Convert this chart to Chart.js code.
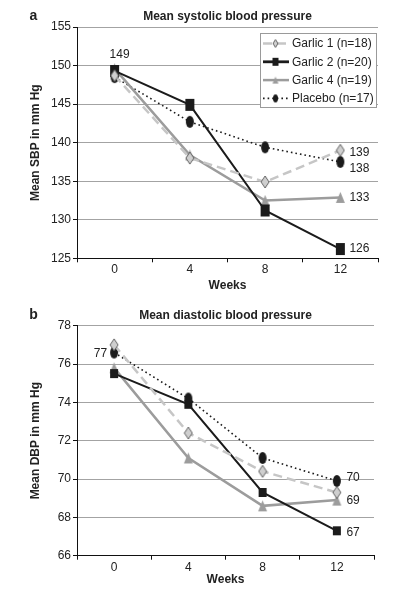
<!DOCTYPE html>
<html><head><meta charset="utf-8">
<script src="https://cdn.jsdelivr.net/npm/chart.js@4.4.1/dist/chart.umd.min.js"></script>
<style>
html,body{margin:0;padding:0;background:#fff;}
#wrap{position:relative;width:404px;height:595px;overflow:hidden;background:#fff;}
.box{position:absolute;left:0;width:404px;}
</style></head><body>
<div id="wrap">
<div class="box" style="top:0;height:295px"><canvas id="ca" width="404" height="295"></canvas></div>
<div class="box" style="top:295px;height:300px"><canvas id="cb" width="404" height="300"></canvas></div>
</div>
<script>
// ---- data ----
const weeks = ['0', '4', '8', '12'];
const seriesNames = ['Garlic 1 (n=18)', 'Garlic 2 (n=20)', 'Garlic 4 (n=19)', 'Placebo (n=17)'];
const sbpGarlic1 = [148.7, 138.0, 134.9, 139.0];
const sbpGarlic2 = [149.3, 144.9, 131.2, 126.2];
const sbpGarlic4 = [149.6, 138.4, 132.5, 132.9];
const sbpPlacebo = [148.5, 142.7, 139.4, 137.5];
const dbpGarlic1 = [77.0, 72.4, 70.4, 69.3];
const dbpGarlic2 = [75.5, 73.9, 69.3, 67.3];
const dbpGarlic4 = [75.8, 71.1, 68.6, 68.9];
const dbpPlacebo = [76.6, 74.2, 71.1, 69.9];
const sbpTicks = [125, 130, 135, 140, 145, 150, 155];
const dbpTicks = [66, 68, 70, 72, 74, 76, 78];
const sbpValueLabels = [
  {text: '149', series: 1, week: 0},
  {text: '139', series: 0, week: 3},
  {text: '138', series: 3, week: 3},
  {text: '133', series: 2, week: 3},
  {text: '126', series: 1, week: 3}
];
const dbpValueLabels = [
  {text: '77', series: 3, week: 0},
  {text: '70', series: 3, week: 3},
  {text: '69', series: 2, week: 3},
  {text: '67', series: 1, week: 3}
];

// ---- styles ----
const FONT = "'Liberation Sans', Arial, Helvetica, sans-serif";
const TXT = '#222';
const sbpLabelOffsets = [[5, -16, 'center'], [9, 2, 'left'], [9, 7, 'left'], [9, 0, 'left'], [9, 0, 'left']];
const dbpLabelOffsets = [[-7, 1.5, 'right'], [9.5, -3, 'left'], [9.5, 0.5, 'left'], [9.5, 2, 'left']];

function marker(shape, w, h, fill, stroke) {
  const c = document.createElement('canvas');
  c.width = w + 2; c.height = h + 2;
  const g = c.getContext('2d');
  g.translate(1, 1);
  g.beginPath();
  if (shape === 'ellipse') g.ellipse(w / 2, h / 2, w / 2, h / 2, 0, 0, Math.PI * 2);
  else if (shape === 'diamond') { g.moveTo(w / 2, 0); g.lineTo(w, h / 2); g.lineTo(w / 2, h); g.lineTo(0, h / 2); g.closePath(); }
  else if (shape === 'triangle') { g.moveTo(w / 2, 0); g.lineTo(w, h); g.lineTo(0, h); g.closePath(); }
  else g.rect(0, 0, w, h);
  g.fillStyle = fill; g.fill();
  if (stroke) { g.lineWidth = 0.9; g.strokeStyle = stroke; g.stroke(); }
  return c;
}

const lineStyles = [
  {color: '#c6c6c6', width: 2.5, dash: [9, 5]},
  {color: '#1b1b1b', width: 2, dash: []},
  {color: '#9c9c9c', width: 2.5, dash: []},
  {color: '#1b1b1b', width: 1.6, dash: [1.6, 3]}
];
const markersA = [
  marker('diamond', 8, 12, '#cfcfcf', '#555'),
  marker('rect', 9, 12, '#1b1b1b'),
  marker('triangle', 9, 11, '#9c9c9c'),
  marker('ellipse', 8, 12, '#1b1b1b')
];
const markersB = [
  marker('diamond', 8, 12, '#cfcfcf', '#555'),
  marker('rect', 8, 9, '#1b1b1b'),
  marker('triangle', 9, 11, '#9c9c9c'),
  marker('ellipse', 8, 12, '#1b1b1b')
];
const legendMarkers = [
  marker('diamond', 5, 8, '#cfcfcf', '#555'),
  marker('rect', 6, 8, '#1b1b1b'),
  marker('triangle', 6, 7, '#9c9c9c'),
  marker('ellipse', 5, 8, '#1b1b1b')
];

function datasets(values, markers) {
  return values.map((v, i) => ({
    label: seriesNames[i],
    data: v,
    borderColor: lineStyles[i].color,
    backgroundColor: lineStyles[i].color,
    borderWidth: lineStyles[i].width,
    borderDash: lineStyles[i].dash,
    borderCapStyle: 'butt',
    tension: 0,
    fill: false,
    pointStyle: markers[i],
    pointRadius: 5,
    pointHoverRadius: 5,
    clip: false
  }));
}

const decor = {
  id: 'decor',
  afterDraw(chart) {
    const o = chart.options.plugins.decor;
    const ctx = chart.ctx, a = chart.chartArea;
    ctx.save();
    ctx.fillStyle = TXT;
    ctx.textBaseline = 'middle';
    // title
    ctx.font = 'bold 12px ' + FONT;
    ctx.textAlign = 'center';
    ctx.fillText(o.title, (a.left + a.right) / 2, a.top - 10.3);
    // panel letter
    ctx.font = 'bold 14px ' + FONT;
    ctx.fillText(o.letter, 33.5, a.top - 10.5);
    // value labels
    ctx.font = '12px ' + FONT;
    o.labels.forEach((l, k) => {
      const p = chart.getDatasetMeta(l.series).data[l.week];
      const off = o.offsets[k];
      ctx.textAlign = off[2];
      ctx.fillText(l.text, p.x + off[0], p.y + off[1]);
    });
    // legend
    if (o.legend) {
      const bx = 260.5, by = 33.5, bw = 116, bh = 74;
      ctx.fillStyle = '#fff';
      ctx.fillRect(bx, by, bw, bh);
      ctx.strokeStyle = '#9a9a9a'; ctx.lineWidth = 1; ctx.setLineDash([]);
      ctx.strokeRect(bx, by, bw, bh);
      chart.data.datasets.forEach((ds, i) => {
        const y = 43.5 + i * 18.3;
        ctx.save();
        ctx.strokeStyle = ds.borderColor;
        ctx.lineWidth = ds.borderWidth + (i === 1 ? 0.8 : 0);
        ctx.setLineDash(ds.borderDash || []);
        ctx.lineCap = 'butt';
        ctx.beginPath(); ctx.moveTo(263, y); ctx.lineTo(289, y); ctx.stroke();
        ctx.restore();
        const m = legendMarkers[i];
        ctx.drawImage(m, 275.5 - m.width / 2, y - m.height / 2);
        ctx.fillStyle = TXT;
        ctx.font = '12px ' + FONT;
        ctx.textAlign = 'left';
        ctx.fillText(ds.label, 292, y + 0.5);
      });
    }
    ctx.restore();
  }
};

function options(ticks, yTitle, padding, xHeight, weeksPad, title, letter, labels, offsets, legend) {
  return {
    responsive: false,
    animation: false,
    devicePixelRatio: 1,
    layout: {padding},
    plugins: {
      legend: {display: false},
      tooltip: {enabled: false},
      title: {display: false},
      decor: {title, letter, labels, offsets, legend}
    },
    scales: {
      x: {
        type: 'category',
        offset: true,
        grid: {offset: true, drawOnChartArea: false, drawTicks: true, tickLength: 4, tickColor: '#111', tickWidth: 1},
        border: {color: '#111', width: 1},
        ticks: {color: TXT, font: {size: 12, family: FONT}, padding: 0.5, maxRotation: 0, autoSkip: false},
        title: {display: true, text: 'Weeks', color: TXT, font: {size: 12, weight: 'bold', family: FONT}, padding: {top: 0, bottom: weeksPad}},
        afterFit: s => { s.height = xHeight; }
      },
      y: {
        min: ticks[0],
        max: ticks[ticks.length - 1],
        afterBuildTicks: s => { s.ticks = ticks.map(v => ({value: v})); },
        ticks: {color: TXT, font: {size: 12, family: FONT}, padding: 2},
        grid: {color: '#a3a3a3', lineWidth: 1, tickLength: 4, tickColor: '#111', tickWidth: 1},
        border: {color: '#111', width: 1},
        title: {display: true, text: yTitle, color: TXT, font: {size: 12, weight: 'bold', family: FONT}, padding: {top: 28, bottom: 0}},
        afterFit: s => { s.width = 77; }
      }
    }
  };
}

new Chart(document.getElementById('ca'), {
  type: 'line',
  data: {labels: weeks, datasets: datasets([sbpGarlic1, sbpGarlic2, sbpGarlic4, sbpPlacebo], markersA)},
  options: options(sbpTicks, 'Mean SBP in mm Hg', {top: 27, left: 0, right: 26, bottom: 0}, 36.7, 1.8,
    'Mean systolic blood pressure', 'a', sbpValueLabels, sbpLabelOffsets, true),
  plugins: [decor]
});
new Chart(document.getElementById('cb'), {
  type: 'line',
  data: {labels: weeks, datasets: datasets([dbpGarlic1, dbpGarlic2, dbpGarlic4, dbpPlacebo], markersB)},
  options: options(dbpTicks, 'Mean DBP in mm Hg', {top: 30.7, left: 0, right: 30, bottom: 0}, 39.3, 7.8,
    'Mean diastolic blood pressure', 'b', dbpValueLabels, dbpLabelOffsets, false),
  plugins: [decor]
});
</script>
</body></html>
